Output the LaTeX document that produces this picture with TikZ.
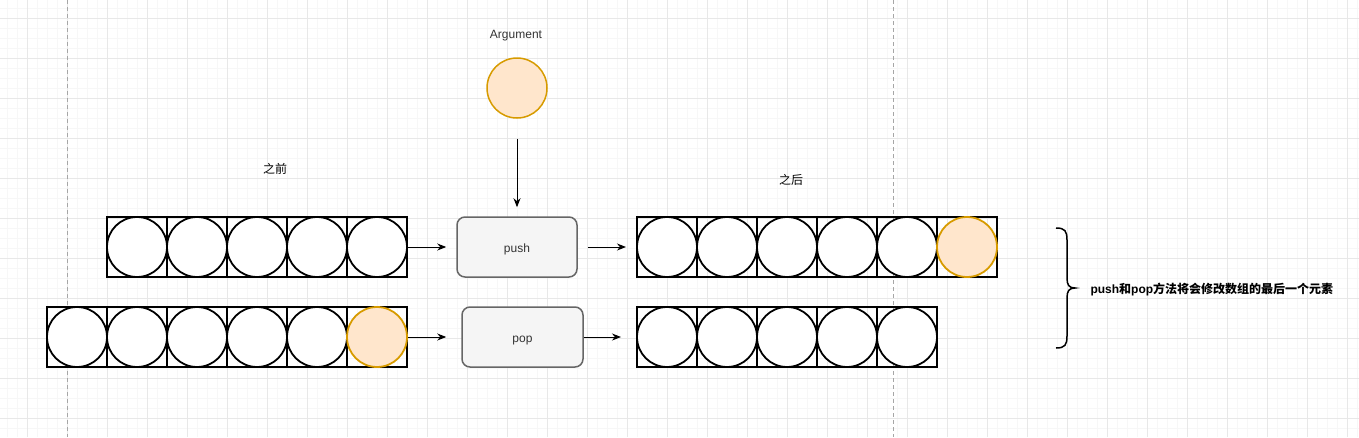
\documentclass[tikz,border=0pt]{standalone}
\usepackage{fontspec}
\setmainfont{Liberation Sans}
\newfontfamily\cjk{Noto Sans CJK SC}
\usepackage{xcolor}
\usetikzlibrary{arrows.meta,positioning}
\definecolor{peach}{HTML}{FFE6CC}
\definecolor{amber}{HTML}{D79B00}
\definecolor{boxfill}{HTML}{F5F5F5}
\definecolor{boxline}{HTML}{666666}
\definecolor{txt}{HTML}{333333}

\begin{document}
\begin{tikzpicture}[x=1pt, y=-1pt, font=\fontsize{12pt}{14pt}\selectfont,
    lbl/.style={text height=11pt, text depth=1pt},
    cell/.style={draw=black, line width=2pt, minimum size=60pt, inner sep=0pt},
    ball/.style={circle, draw=black, line width=1.8pt, fill=white, minimum size=60pt, inner sep=0pt},
    hot/.style={ball, draw=amber, fill=peach},
    op/.style={lbl, draw=boxline, fill=boxfill, line width=1.5pt, rounded corners=8pt,
               minimum height=60pt, text=txt},
    arr/.style={-{Stealth[length=9pt,width=7pt]}, line width=1pt}]
  \useasboundingbox (0,0) rectangle (1359,437);
  % background grid
  \foreach \x in {7,17,...,1357} \draw[black!3, line width=0.8pt] (\x,0) -- (\x,437);
  \foreach \y in {8,18,...,437} \draw[black!3, line width=0.8pt] (0,\y) -- (1359,\y);
  \foreach \x in {27,67,...,1357} \draw[black!9, line width=0.8pt] (\x,0) -- (\x,437);
  \foreach \y in {18,58,...,437} \draw[black!9, line width=0.8pt] (0,\y) -- (1359,\y);
  \foreach \x in {67,893} \draw[black!35, line width=0.8pt, dash pattern=on 4pt off 3pt] (\x,0) -- (\x,437);

  % before: push row and pop row
  \foreach \i in {1,...,5} {
    \node[cell] (u\i) at ({77+60*\i},247) {};
    \node[ball] (uc\i) at (u\i) {};
  }
  \foreach \i in {1,...,6} \node[cell] (d\i) at ({17+60*\i},337) {};
  \foreach \i in {1,...,5} \node[ball] (dc\i) at (d\i) {};
  \node[hot] (dc6) at (d6) {};

  % after
  \foreach \i in {1,...,6} \node[cell] (ru\i) at ({607+60*\i},247) {};
  \foreach \i in {1,...,5} \node[ball] (ruc\i) at (ru\i) {};
  \node[hot] (ruc6) at (ru6) {};
  \foreach \i in {1,...,5} {
    \node[cell] (rd\i) at ({607+60*\i},337) {};
    \node[ball] (rdc\i) at (rd\i) {};
  }

  % operations
  \node[op, minimum width=120pt] (push) at (517,247) {push};
  \node[op, minimum width=121pt] (pop) at (522.5,337) {pop};
  \node[hot, line width=1.5pt] (arg) at (517,88) {};
  \node[lbl, text=txt] (arglbl) at (516,33) {Argument};
  \node[lbl] (before) at (275,168) {\cjk 之前};
  \node[lbl] (after) at (791,179) {\cjk 之后};

  \draw[arr, shorten <=20pt, shorten >=9pt] (arg.south) -- (push.north);
  \draw[arr, shorten >=10pt] (u5.east) -- (push.west);
  \draw[arr, shorten <=10pt, shorten >=10pt] (push.east) -- (ru1.west);
  \draw[arr, shorten >=15pt] (d6.east) -- (pop.west);
  \draw[arr, shorten >=15pt] (pop.east) -- (rd1.west);

  % brace and note
  \draw[line width=1.5pt] (1056,228) .. controls (1065,228) and (1067,231) .. (1067,240)
    -- (1067,278) .. controls (1067,285) and (1069,288) .. (1075,288)
    .. controls (1069,288) and (1067,291) .. (1067,298)
    -- (1067,336) .. controls (1067,345) and (1065,348) .. (1056,348);
  \node[lbl, font=\fontsize{12pt}{14pt}\selectfont\bfseries, anchor=west] (note) at (1087,288)
    {push{\cjk 和}pop{\cjk 方法将会修改数组的最后一个元素}};
\end{tikzpicture}
\end{document}
